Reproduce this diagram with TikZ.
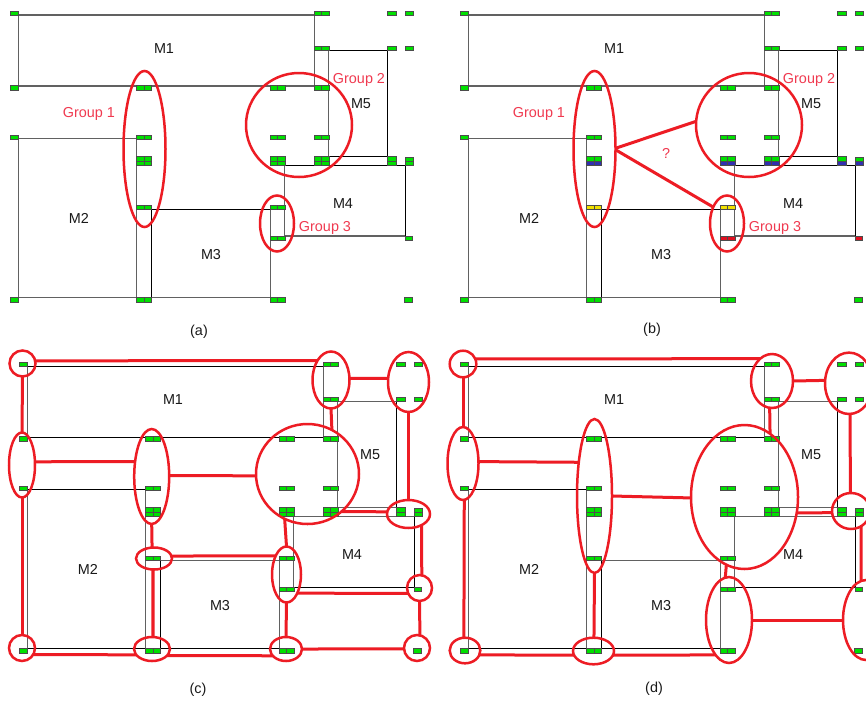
\documentclass[tikz,border=0pt]{standalone}
\usepackage{fontspec}
\setmainfont{Liberation Sans}
\usetikzlibrary{shapes.geometric}
\definecolor{rd}{HTML}{ED1C24}
\definecolor{grp}{HTML}{F03A50}
\definecolor{pg}{HTML}{00E000}
\definecolor{pb}{HTML}{3030B0}
\definecolor{py}{HTML}{F0E000}
\definecolor{pr}{HTML}{E01020}
\tikzset{
  x=1pt,y=-1pt,
  lg/.style={draw=black!62,line width=1.2pt},
  lk/.style={draw=black,line width=1pt},
  padcell/.style={draw=black!70,line width=.9pt},
  lbl/.style={font=\fontsize{14.4}{16}\selectfont,text=black!90,inner sep=0pt},
  grplbl/.style={font=\fontsize{14.4}{16}\selectfont,text=grp,inner sep=0pt},
  ring/.style={ellipse,draw=rd,line width=2.5pt,inner sep=0pt,outer sep=0pt},
  conn/.style={draw=rd,line width=3pt},
}
% ring: name, cx, cy, rx, ry
\newcommand\ring[5]{\node[ring,minimum width=#4pt*2,minimum height=#5pt*2] (#1) at (#2,#3) {};}
% single cell: x1 x2 y1 y2 colour
\newcommand\cel[5]{\filldraw[padcell,fill=#5] (#1,#3) rectangle (#2,#4);}
% double cell: x y1 y2 colour
\newcommand\dbl[4]{\pgfmathsetmacro\xa{#1+7.3}\pgfmathsetmacro\xb{#1+15}%
  \filldraw[padcell,fill=#4] (#1,#2) rectangle (\xa,#3);%
  \filldraw[padcell,fill=#4] (\xa,#2) rectangle (\xb,#3);}
% board: prefix, colour of lower half of row 161, colour of row 207, colour of row 238
\newcommand\board[4]{%
  \draw[hA] (18.3,15) -- (314.3,15);
  \draw[hA] (18.3,86) -- (328.7,86);
  \draw[hA] (18.3,138.7) -- (136.7,138.7);
  \draw[hA] (18.3,297.7) -- (270.3,297.7);
  \draw[hA] (284.7,236) -- (405.7,236);
  \draw[hB] (328.7,50.3) -- (387.7,50.3);
  \draw[hB] (328.7,156.3) -- (387.7,156.3);
  \draw[hB] (151.3,209.3) -- (270.3,209.3);
  \draw[hB] (284.7,165.3) -- (405.7,165.3);
  \draw[lg] (18.3,15) -- (18.3,86);
  \draw[lg] (18.3,138.7) -- (18.3,297.7);
  \draw[lg] (314.3,15) -- (314.3,86);
  \draw[lg] (328.7,50.3) -- (328.7,156.3);
  \draw[lk] (387.7,50.3) -- (387.7,156.3);
  \draw[lg] (136.7,138.7) -- (136.7,297.7);
  \draw[lk] (151.3,209.3) -- (151.3,297.7);
  \draw[lg] (270.3,209.3) -- (270.3,297.7);
  \draw[lg] (284.7,165.3) -- (284.7,236);
  \draw[lk] (405.7,165.3) -- (405.7,236);
  \cel{10}{18.3}{11.3}{15.5}{pg}\dbl{314.3}{11.3}{15.5}{pg}\cel{387.7}{396}{11.3}{15.5}{pg}\cel{405.3}{413.7}{11.3}{15.5}{pg}
  \dbl{314.3}{46.7}{50.7}{pg}\cel{387.7}{396}{46.7}{50.7}{pg}\cel{405.3}{413.7}{46.7}{50.7}{pg}
  \cel{10}{18.3}{85.7}{90.5}{pg}\dbl{136.7}{85.7}{90.5}{pg}\dbl{270}{85.7}{90.5}{pg}\dbl{314.3}{85.7}{90.5}{pg}
  \cel{10}{18.3}{135}{139}{pg}\dbl{136.7}{135}{139}{pg}\dbl{270}{135}{139}{pg}\dbl{314.3}{135}{139}{pg}
  \dbl{136.7}{156}{161}{pg}\dbl{270}{156}{161}{pg}\dbl{314.3}{156}{161}{pg}\cel{387.7}{396}{156}{161}{pg}\cel{405.3}{413.7}{157.5}{161.5}{pg}
  \dbl{136.7}{161}{165.7}{#2}\dbl{270}{161}{165.7}{#2}\dbl{314.3}{161}{165.7}{#2}\cel{387.7}{396}{161}{165.7}{#2}\cel{405.3}{413.7}{161.5}{165.7}{#2}
  \dbl{136.7}{205.3}{209.7}{#3}\dbl{270}{205.3}{209.7}{#3}
  \dbl{270}{236}{240.7}{#4}\cel{405.3}{412.7}{236}{240.7}{#4}
  \cel{10}{18.3}{297.3}{302}{pg}\dbl{136.7}{297.3}{302}{pg}\dbl{270}{297.3}{302}{pg}\cel{404.3}{412.7}{297.3}{302}{pg}
  \node[lbl] (#1m1) at (164,49) {M1};
  \node[lbl] (#1m2) at (79,218) {M2};
  \node[lbl] (#1m3) at (211,255) {M3};
  \node[lbl] (#1m4) at (343,204) {M4};
  \node[lbl] (#1m5) at (361,104) {M5};
}
\begin{document}
\begin{tikzpicture}
\clip (0,0) rectangle (866,702);
\fill[white] (0,0) rectangle (866,702);
% ---------- (a)
\begin{scope}[hA/.style=lg,hB/.style=lk]
  \board{a}{pg}{pg}{pg}
  \ring{a1}{144.5}{149}{21}{78}
  \ring{a2}{299}{125}{53}{52}
  \ring{a3}{277}{223.5}{17}{28}
  \node[grplbl] (ag1) at (89,113.5) {Group 1};
  \node[grplbl] (ag2) at (359,79.5) {Group 2};
  \node[grplbl] (ag3) at (325,227.5) {Group 3};
  \node[lbl] (acap) at (199,331.5) {(a)};
\end{scope}
% ---------- (b)
\begin{scope}[shift={(450,0)},hA/.style=lg,hB/.style=lk]
  \board{b}{pb}{py}{pr}
  \ring{b1}{144.5}{149}{21}{78}
  \ring{b2}{299}{125}{53}{52}
  \ring{b3}{277}{223.5}{17}{28}
  \node[grplbl] (bg1) at (89,113.5) {Group 1};
  \node[grplbl] (bg2) at (359,79.5) {Group 2};
  \node[grplbl] (bg3) at (325,227.5) {Group 3};
  \node[grplbl] (bq) at (216,153) {?};
  \node[lbl] (bcap) at (202,329.5) {(b)};
  \draw[conn] (b1.2) -- (b2.176);
  \draw[conn] (b1.358) -- (b3.130);
\end{scope}
% ---------- (c)
\begin{scope}[shift={(9,351)},hA/.style=lk,hB/.style=lg]
  \board{c}{pg}{pg}{pg}
  \node[lbl] (ccap) at (189,338.5) {(c)};
\end{scope}
\ring{c1}{22.5}{363.5}{13}{13}
\ring{c2}{331}{380}{18.5}{28.5}
\ring{c3}{408.5}{382}{20.5}{30}
\ring{c4}{22}{465}{13}{32.5}
\ring{c5}{151.7}{476.5}{17.5}{47.5}
\ring{c6}{307.5}{474}{51.5}{50}
\ring{c7}{408.5}{514}{21.5}{14}
\ring{c8}{154}{558.5}{18}{11}
\ring{c9}{286.5}{574.5}{14.5}{28}
\ring{c10}{419.5}{588}{12.5}{13}
\ring{c11}{22}{648}{13}{13}
\ring{c12}{152}{649}{18}{12}
\ring{c13}{286}{649}{16}{12}
\ring{c14}{417}{648}{13}{13}
\draw[conn] (c1.12) -- (c2.125);
\draw[conn] (c2.5) -- (c3.170);
\draw[conn] (c2.south) -- (c6.61);
\draw[conn] (c3.south) -- (c7.north);
\draw[conn] (c4.14) -- (c5.138);
\draw[conn] (c5.3) -- (c6.182);
\draw[conn] (c1.south) -- (c4.north);
\draw[conn] (c4.south) -- (c11.north);
\draw[conn] (c5.south) -- (c8.100);
\draw[conn] (c8.8) -- (c9.120);
\draw[conn,line width=3.4pt] (c8.265) -- (c12.85);
\draw[conn] (c6.243) -- (c9.north);
\draw[conn] (c9.300) -- (c10.205);
\draw[conn] (c9.south) -- (c13.north);
\draw[conn] (c13.east) -- (c14.184);
\draw[conn] (c12.336) -- (c13.207);
\draw[conn] (c11.329) -- (c12.200);
\draw[conn] (c10.south) -- (c14.77);
\draw[conn] (c7.320) -- (c10.80);
\draw[conn] (c6.312) -- (c7.174);
% ---------- (d)
\begin{scope}[shift={(450,351)},hA/.style=lk,hB/.style=lg]
  \board{d}{pg}{pg}{pg}
  \node[lbl] (dcap) at (204,337.5) {(d)};
\end{scope}
\ring{d1}{463}{364}{13.3}{13.3}
\ring{d2}{772}{381}{21}{27}
\ring{d3}{849}{383.3}{24}{30.7}
\ring{d4}{463}{463.5}{15.5}{36.5}
\ring{d5}{594.5}{496}{17.5}{77}
\ring{d6}{744.5}{497}{53.5}{72}
\ring{d7}{851}{511}{19}{18}
\ring{d8}{729}{620}{23}{43}
\ring{d9}{866}{620}{23}{40}
\ring{d10}{465}{650.5}{15.3}{12.8}
\ring{d11}{593.5}{651}{20.5}{13.3}
\draw[conn] (d1.23) -- (d2.118);
\draw[conn] (d2.east) -- (d3.173);
\draw[conn] (d2.265) -- (d6.68);
\draw[conn] (d3.272) -- (d7.92);
\draw[conn] (d1.south) -- (d4.north);
\draw[conn] (d4.272) -- (d10.95);
\draw[conn] (d4.7) -- (d5.115);
\draw[conn] (d5.east) -- (d6.181);
\draw[conn] (d5.south) -- (d11.88);
\draw[conn] (d10.343) -- (d11.192);
\draw[conn] (d11.348) -- (d8.249);
\draw[conn] (d6.255) -- (d8.95);
\draw[conn] (d8.east) -- (d9.west);
\draw[conn] (d6.343) -- (d7.185);
\draw[conn] (d7.304) -- (d9.97);
\end{tikzpicture}
\end{document}
